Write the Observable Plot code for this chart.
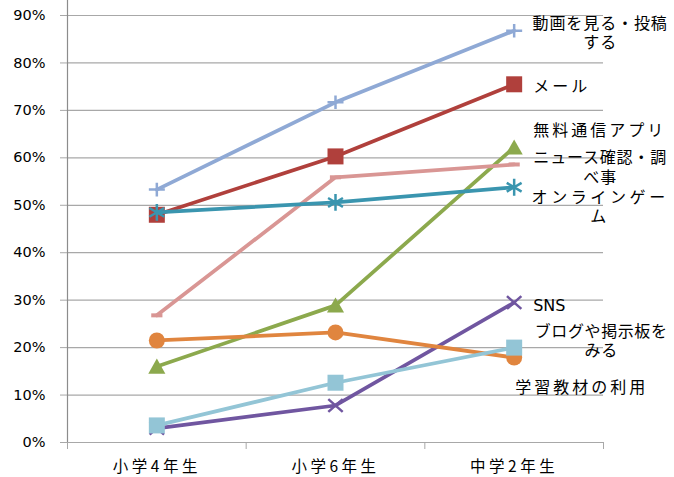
<!DOCTYPE html>
<html><head><meta charset="utf-8">
<script src="https://cdn.jsdelivr.net/npm/d3@7"></script>
<script src="https://cdn.jsdelivr.net/npm/@observablehq/plot@0.6"></script>
<style>
body{margin:0;background:#fff}
#chart svg{overflow:visible}
</style>
</head><body><div id="chart"></div>
<script>
// ---- data ----
const categories = ["小学4年生", "小学6年生", "中学2年生"];
const seriesNames = ["動画を見る・投稿する", "メール", "無料通信アプリ", "ニュース確認・調べ事", "オンラインゲーム", "SNS", "ブログや掲示板をみる", "学習教材の利用"];
const video      = [0.533, 0.717, 0.868];
const mail       = [0.480, 0.603, 0.755];
const freeApp    = [0.160, 0.289, 0.622];
const news       = [0.268, 0.559, 0.586];
const onlineGame = [0.485, 0.506, 0.538];
const sns        = [0.030, 0.078, 0.295];
const blog       = [0.036, 0.126, 0.200];
const study      = [0.215, 0.232, 0.179];
const yTicks = [0, 0.1, 0.2, 0.3, 0.4, 0.5, 0.6, 0.7, 0.8, 0.9];
const labelTexts = ["動画を見る・投稿\nする", "メール", "無料通信アプリ", "ニュース確認・調\nべ事", "オンラインゲー\nム", "SNS", "ブログや掲示板を\nみる", "学習教材の利用"];

// ---- custom symbols (r derived from Plot's size = πr²) ----
function sym(fn){ return { draw(ctx, size){ const r = Math.sqrt(size/Math.PI); fn(ctx, r); } }; }
const symSquare = sym((c,r)=>{ c.moveTo(-r,-r); c.lineTo(r,-r); c.lineTo(r,r); c.lineTo(-r,r); c.closePath(); });
const symCircle = sym((c,r)=>{ c.moveTo(r,0); c.arc(0,0,r,0,2*Math.PI); });
const symTriangle = sym((c,r)=>{ c.moveTo(0,-r); c.lineTo(r*1.07,r*0.9); c.lineTo(-r*1.07,r*0.9); c.closePath(); });
const symPlus = sym((c,r)=>{ c.moveTo(-r,0); c.lineTo(r,0); c.moveTo(0,-r*0.85); c.lineTo(0,r*0.85); });
const symTimes = sym((c,r)=>{ c.moveTo(-r*0.9,-r*0.8); c.lineTo(r*0.9,r*0.8); c.moveTo(-r*0.9,r*0.8); c.lineTo(r*0.9,-r*0.8); });
const symAsterisk = sym((c,r)=>{ c.moveTo(0,-r*1.05); c.lineTo(0,r*1.05); c.moveTo(-r*0.93,-r*0.55); c.lineTo(r*0.93,r*0.55); c.moveTo(-r*0.93,r*0.55); c.lineTo(r*0.93,-r*0.55); });
const symDash = sym((c,r)=>{ c.moveTo(-r*0.7,0); c.lineTo(r*0.7,0); });

// ---- series styling (order = drawing order) ----
const series = [
  {name: seriesNames[0], values: video,      color: "#8FA9D5", symbol: symPlus,     filled: false},
  {name: seriesNames[1], values: mail,       color: "#B0403C", symbol: symSquare,   filled: true},
  {name: seriesNames[2], values: freeApp,    color: "#8CA94D", symbol: symTriangle, filled: true},
  {name: seriesNames[3], values: news,       color: "#D99694", symbol: symDash,     filled: false},
  {name: seriesNames[5], values: sns,        color: "#7056A0", symbol: symTimes,    filled: false},
  {name: seriesNames[7], values: study,      color: "#E0853F", symbol: symCircle,   filled: true},
  {name: seriesNames[6], values: blog,       color: "#93C5D6", symbol: symSquare,   filled: true},
  {name: seriesNames[4], values: onlineGame, color: "#3A95AF", symbol: symAsterisk, filled: false}
];

const lineMarks = [];
for (const s of series) {
  const rows = s.values.map((v, i) => ({x: i, y: v}));
  lineMarks.push(Plot.line(rows, {x: "x", y: "y", stroke: s.color, strokeWidth: 3.75}));
  lineMarks.push(Plot.dot(rows, {
    x: "x", y: "y", r: 8, symbol: s.symbol,
    fill: s.filled ? s.color : "none",
    stroke: s.color,
    strokeWidth: s.filled ? 0 : (s.symbol === symDash ? 4 : 2.5)
  }));
}

// label layout (pixel offsets relative to the last category point)
const labelLayout = [
  {y: 0.865, dx: 86, anchor: "middle", ls: 0.9},
  {y: 0.7525, dx: 19, anchor: "start", ls: 3},
  {y: 0.658, dx: 19, anchor: "start", ls: 3},
  {y: 0.581, dx: 86, anchor: "middle", ls: 0.8},
  {y: 0.4985, dx: 86, anchor: "middle", ls: 3.6},
  {y: 0.291, dx: 19, anchor: "start", ls: 0},
  {y: 0.215, dx: 87, anchor: "middle", ls: 0.6},
  {y: 0.118, dx: 1, anchor: "start", ls: 3}
];
const labelRows = labelTexts.map((t, i) => ({t, x: 2, ...labelLayout[i]}));
const labelMarks = labelRows.map(d => Plot.text([d], {
  x: "x", y: "y", text: "t", dx: d.dx, textAnchor: d.anchor, lineHeight: 1.2,
  fontSize: 16, fontFamily: "DejaVu Sans, Noto Sans CJK JP", fill: "#000"
}));

const gridColor = "#A8A8A8";
const chart = Plot.plot({
  width: 674, height: 477,
  marginLeft: 67, marginRight: 71, marginTop: 15, marginBottom: 35,
  style: {background: "#fff", color: "#000", overflow: "visible"},
  x: {type: "linear", domain: [-0.5, 2.5]},
  y: {domain: [0, 0.9]},
  marks: [
    Plot.gridY({ticks: yTicks, stroke: gridColor, strokeOpacity: 1, strokeWidth: 1.2}),
    Plot.axisY({ticks: yTicks, tickSize: 7, tickPadding: 15, tickFormat: d => Math.round(d*100) + "%",
      stroke: gridColor, strokeOpacity: 1, fontSize: 14.5, fontFamily: "DejaVu Sans", label: null}),
    Plot.axisX({ticks: [-0.5, 0.5, 1.5, 2.5], tickSize: 7, tickFormat: () => "", stroke: gridColor, strokeOpacity: 1, label: null}),
    Plot.axisX({ticks: [0, 1, 2], tickSize: 0, tickPadding: 18, tickFormat: i => categories[i],
      fontSize: 15.5, fontFamily: "Noto Sans CJK JP", label: null}),
    Plot.ruleX([-0.5], {y1: 0, y2: 0.9316, stroke: "#8C8C8C", strokeWidth: 1.2}),
    ...lineMarks,
    ...labelMarks
  ]
});
document.getElementById("chart").appendChild(chart);

// Excel-like letter spacing for the Japanese texts
d3.select(chart).selectAll("text").each(function() {
  const txt = this.textContent;
  if (categories.includes(txt)) { this.style.letterSpacing = "3.5px"; return; }
  const idx = labelTexts.findIndex(l => l.replace("\n", "") === txt);
  if (idx >= 0) this.style.letterSpacing = labelLayout[idx].ls + "px";
});
</script>
</body></html>
